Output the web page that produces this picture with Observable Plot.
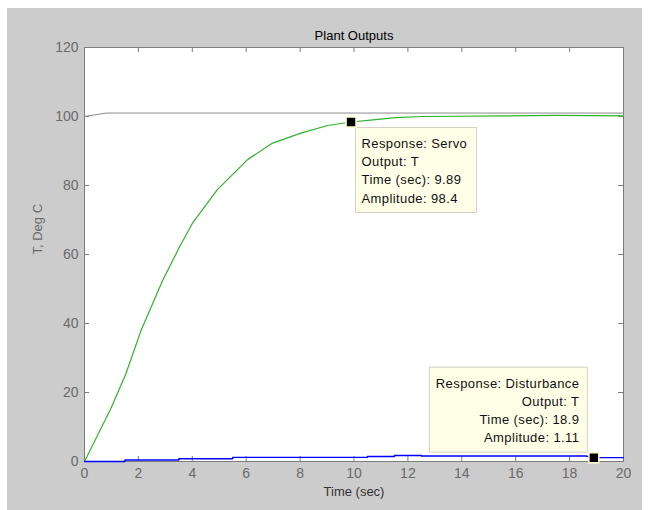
<!DOCTYPE html>
<html><head><meta charset="utf-8">
<script src="https://cdn.jsdelivr.net/npm/d3@7"></script>
<script src="https://cdn.jsdelivr.net/npm/@observablehq/plot@0.6"></script>
<style>
body{margin:0;background:#fff;}
#wrap{position:relative;width:648px;height:510px;overflow:hidden;}
#bg{position:absolute;left:7px;top:8px;width:635px;height:502px;background:#cccccc;}
#chart{position:absolute;left:0;top:0;}
</style></head><body><div id="wrap"><div id="bg"></div><div id="chart"></div></div>
<script>
const titleText = "Plant Outputs";
const xLabel = "Time (sec)";
const yLabel = "T, Deg C";
const xTicks = [0,2,4,6,8,10,12,14,16,18,20];
const yTicks = [0,20,40,60,80,100,120];

const refTime = [0, 0.8, 20];
const refValue = [100, 101, 101];

const servoTime = [0, 0.97, 1.53, 2.09, 2.89, 3.5, 4.0, 4.93, 5.55, 6.05, 6.98, 8.03, 9.02, 9.89, 10.7, 11.55, 12.55, 17.5, 20];
const servoValue = [0, 15.2, 25.3, 37.8, 52.3, 61.8, 69.0, 78.8, 83.6, 87.5, 92.3, 95.2, 97.4, 98.4, 99.0, 99.7, 100, 100.3, 100.2];

const distTime = [0, 1.5, 1.5, 3.5, 3.5, 5.5, 5.5, 10.5, 10.5, 11.5, 11.5, 12.5, 12.5, 18.6, 18.9, 20];
const distValue = [0, 0, 0.45, 0.45, 0.8, 0.8, 1.2, 1.2, 1.45, 1.45, 1.75, 1.75, 1.6, 1.6, 1.11, 1.11];

const tipNames = ["Servo", "Disturbance"];
const tipTime = [9.89, 18.9];
const tipValue = [98.4, 1.11];

const refData = refTime.map((t, i) => ({t, v: refValue[i]}));
const servoData = servoTime.map((t, i) => ({t, v: servoValue[i]}));
const distData = distTime.map((t, i) => ({t, v: distValue[i]}));
const tipData = tipTime.map((t, i) => ({name: tipNames[i], t, v: tipValue[i]}));

const W = 648, H = 510, mL = 84, mR = 25, mT = 47, mB = 49;
const fw = W - mL - mR, fh = H - mT - mB;
const font = "'Liberation Sans', Arial, sans-serif";
const axisColor = "#7c7c7c";
const labelColor = "#6a6a6a";

const chart = Plot.plot({
  width: W, height: H,
  marginLeft: mL, marginRight: mR, marginTop: mT, marginBottom: mB,
  style: {background: "transparent", fontFamily: font, fontSize: "13px"},
  x: {domain: [0, 20]},
  y: {domain: [0, 120]},
  marks: [
    Plot.frame({fill: "white", stroke: axisColor}),
    Plot.tickX(xTicks, {x: d => d, stroke: axisColor, insetTop: fh - 5}),
    Plot.tickX(xTicks, {x: d => d, stroke: axisColor, insetBottom: fh - 5}),
    Plot.tickY(yTicks, {y: d => d, stroke: axisColor, insetRight: fw - 5}),
    Plot.tickY(yTicks, {y: d => d, stroke: axisColor, insetLeft: fw - 5}),
    Plot.axisX({ticks: xTicks, tickSize: 0, tickPadding: 7, color: labelColor, fontSize: 14, label: null}),
    Plot.axisY({ticks: yTicks, tickSize: 0, tickPadding: 6, color: labelColor, fontSize: 14, label: null}),
    Plot.line(refData, {x: "t", y: "v", stroke: "#8c8c8c", strokeWidth: 1}),
    Plot.line(servoData, {x: "t", y: "v", stroke: "#2cb52c", strokeWidth: 1.2}),
    Plot.line(distData, {x: "t", y: "v", stroke: "#0000ff", strokeWidth: 1.4}),
    Plot.text([titleText], {frameAnchor: "top", dy: -17, fill: "#000", fontSize: 13}),
    Plot.text([xLabel], {frameAnchor: "bottom", dy: 34, fill: "#333", fontSize: 13}),
    Plot.text([yLabel], {frameAnchor: "left", dx: -47, rotate: -90, fill: labelColor, fontSize: 13})
  ]
});
document.getElementById("chart").appendChild(chart);

// Data tips anchored on the data points through Plot's scales
const sx = chart.scale("x"), sy = chart.scale("y");
const svg = d3.select(chart);
const tipLayer = svg.append("g").attr("font-family", font).attr("font-size", 13)
  .attr("letter-spacing", "0.4px").attr("fill", "#111");
tipData.forEach((d, i) => {
  const px = sx.apply(d.t), py = sy.apply(d.v);
  const lines = [
    "Response: " + d.name,
    "Output: T",
    "Time (sec): " + d.t,
    "Amplitude: " + d.v
  ];
  let bx, by, bw, bh, tx, anchor, ty0;
  if (i === 0) {
    bx = px + 5; by = py + 6; bw = 121; bh = 85; tx = px + 11; anchor = "start"; ty0 = py + 22;
  } else {
    bx = px - 164; by = py - 90; bw = 158; bh = 85; tx = px - 14; anchor = "end"; ty0 = py - 74;
  }
  tipLayer.append("rect").attr("x", bx).attr("y", by).attr("width", bw).attr("height", bh)
    .attr("fill", "#ffffe8").attr("stroke", "#d2d2c4");
  lines.forEach((s, k) => {
    tipLayer.append("text").attr("x", tx).attr("y", ty0 + k * 18.2).attr("dy", "0.35em")
      .attr("text-anchor", anchor).text(s);
  });
});
const markers = Plot.dot(tipData, {x: "t", y: "v", symbol: "square", r: 5.6, fill: "#000", stroke: "#ffffd0", strokeWidth: 1.5});
const mk = Plot.plot({
  width: W, height: H,
  marginLeft: mL, marginRight: mR, marginTop: mT, marginBottom: mB,
  style: {background: "transparent"},
  x: {domain: [0, 20], axis: null},
  y: {domain: [0, 120], axis: null},
  marks: [markers]
});
svg.node().appendChild(mk.querySelector("g[aria-label='dot']"));
</script>
</body></html>
